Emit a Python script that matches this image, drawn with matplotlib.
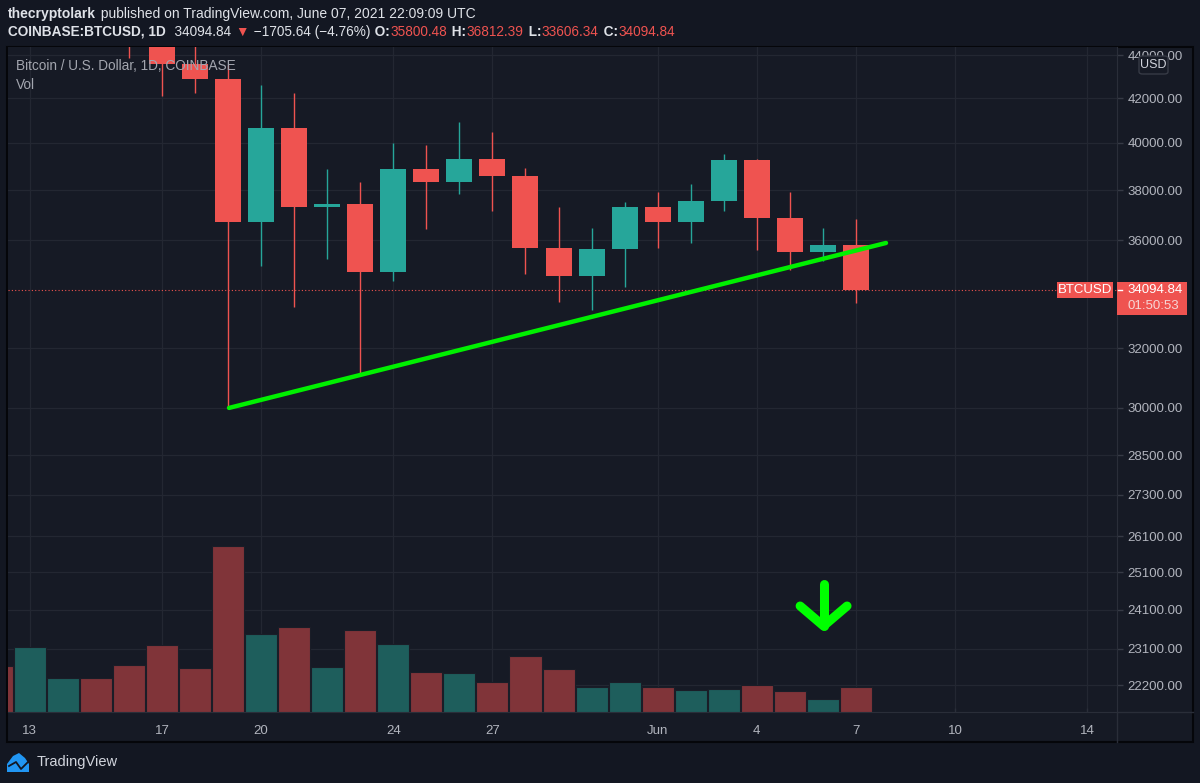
import matplotlib
matplotlib.use('Agg')
import matplotlib.pyplot as plt
import matplotlib.ticker as mticker
from matplotlib.patches import Rectangle, FancyBboxPatch, Polygon
from matplotlib.lines import Line2D
import pandas as pd

plt.rcParams['font.family'] = ['Liberation Sans', 'DejaVu Sans']

W, H = 1200, 783

# daily candles COINBASE:BTCUSD, May 12 - Jun 7 2021
dates = pd.date_range('2021-05-12', '2021-06-07', freq='D')
opens = [56700, 49500, 49700, 49900, 46760, 46450, 43560, 42900, 36710, 40650,
         37310, 37450, 34770, 38880, 38340, 39300, 38590, 35680, 34620, 35650,
         37310, 36710, 37570, 39260, 36870, 35530, 35800.48]
highs = [57900, 51300, 51500, 50700, 49800, 46600, 45800, 43550, 42600, 42250,
         38900, 38350, 40000, 39900, 40930, 40480, 38930, 37300, 36480, 37500,
         37920, 38250, 39530, 39310, 37920, 36480, 36812.39]
lows = [49150, 46000, 48800, 46650, 43850, 42100, 42250, 30000, 35000, 33470,
        35270, 31150, 34430, 36450, 37840, 37150, 34700, 33640, 33380, 34200,
        35680, 35900, 37150, 35600, 34840, 35200, 33606.34]
closes = [49500, 49700, 49900, 46760, 46450, 43560, 42900, 36710, 40650, 37310,
          37450, 34770, 38880, 38340, 39300, 38590, 35680, 34620, 35650, 37310,
          36710, 37570, 39260, 36870, 35530, 35800, 34094.84]
# volume, thousand BTC
volumes = [32, 45.5, 24, 24, 33, 47, 31, 116, 54.5, 59.5, 31.5, 57.5, 47.5, 28,
           27.5, 21, 39, 30, 17.5, 21, 17.5, 15.5, 16, 19, 14.5, 9, 17.5]

# support line drawn on the chart
trend_dates = pd.to_datetime(['2021-05-19 00:40', '2021-06-07 21:50'])
trend_prices = [30000, 35885]

price_ticks = [22200, 23100, 24100, 25100, 26100, 27300, 28500, 30000, 32000,
               36000, 38000, 40000, 42000, 44000]
date_ticks = pd.to_datetime(['2021-05-13', '2021-05-17', '2021-05-20', '2021-05-24',
                             '2021-05-27', '2021-06-01', '2021-06-04', '2021-06-07',
                             '2021-06-10', '2021-06-14'])
date_labels = ['13', '17', '20', '24', '27', 'Jun', '4', '7', '10', '14']
last_price = 34094.84

BG = '#161a25'
OUT = '#131722'
GRID = '#232732'
UP, DOWN = '#26a69a', '#ef5350'
VUP, VDOWN = '#1e5e5c', '#803439'
TXT = '#b2b5be'
HW = '#dfe2e8'


def fx(px):
    return px / W


def fy(py):
    return 1 - py / H


fig = plt.figure(figsize=(12, 7.83), dpi=100, facecolor=OUT)
fig.add_artist(Rectangle((fx(7), fy(742)), (1193 - 7) / W, (742 - 47) / H,
                         transform=fig.transFigure, facecolor=BG,
                         edgecolor='#05060a', lw=1.5, zorder=-5))

ax = fig.add_axes([fx(8), fy(712), (1117 - 8) / W, (712 - 47) / H])
ax.set_facecolor(BG)
ax.set_yscale('log')
ax.set_ylim(21564, 44394)
ax.set_xlim(pd.Timestamp('2021-05-19') - pd.Timedelta(days=6.66),
            pd.Timestamp('2021-05-19') + pd.Timedelta(days=26.9))

# volume on its own hidden scale
ax2 = ax.twinx()
ax2.set_ylim(0, 465.5)
vcols = [VUP if c >= o else VDOWN for o, c in zip(opens, closes)]
ax2.bar(dates, volumes, width=0.97, color=vcols, edgecolor='#1a1d27', lw=0.8)
ax2.yaxis.set_visible(False)
for s in ax2.spines.values():
    s.set_visible(False)

# candles
cols = [UP if c >= o else DOWN for o, c in zip(opens, closes)]
ax.vlines(dates, lows, highs, colors=cols, lw=1, zorder=2)
ax.bar(dates, [abs(c - o) for o, c in zip(opens, closes)],
       bottom=[min(o, c) for o, c in zip(opens, closes)],
       width=0.787, color=cols, lw=0, zorder=3)

ax.plot(trend_dates, trend_prices, color='#00f000', lw=3.2,
        solid_capstyle='round', zorder=4)
ax.axhline(last_price, color=DOWN, lw=0.8, ls=(0, (1, 2)), zorder=1)

ax.yaxis.tick_right()
ax.yaxis.set_label_position('right')
ax.yaxis.set_major_locator(mticker.FixedLocator(price_ticks))
ax.yaxis.set_minor_locator(mticker.NullLocator())
ax.yaxis.set_major_formatter(mticker.FuncFormatter(lambda v, p: f'{v:.2f}'))
ax.set_xticks(date_ticks)
ax.set_xticklabels(date_labels)
ax.tick_params(axis='y', which='both', left=False, labelleft=False, right=True,
               labelright=True, length=4, width=1, color='#363a45',
               pad=3.5, labelsize=9.5, labelcolor=TXT)
ax.tick_params(axis='x', length=3, width=1, color='#2a2e39', direction='in',
               pad=9, labelsize=9.5, labelcolor=TXT)
ax.grid(True, color=GRID, lw=0.9)
ax.set_axisbelow(True)
for s in ['left', 'top']:
    ax.spines[s].set_visible(False)
ax.spines['right'].set_color('#2a2e39')
ax.spines['bottom'].set_color('#2a2e39')

# green arrow over the volume
a_x = pd.Timestamp('2021-06-06 00:30')
d = pd.Timedelta(days=0.71)
ax2.plot([a_x, a_x], [89.5, 60.2], color='#00ff00', lw=6.5, solid_capstyle='round')
ax2.plot([a_x - d, a_x, a_x + d], [74.2, 60.2, 74.2], color='#00ff00', lw=6.5,
         solid_capstyle='round', solid_joinstyle='round')

# axis borders extending through the scales
fig.add_artist(Line2D([fx(1117), fx(1117)], [fy(712), fy(742)], color='#2a2e39', lw=1))
fig.add_artist(Line2D([fx(1117), fx(1193)], [fy(712), fy(712)], color='#2a2e39', lw=1))

# last price labels
fig.add_artist(Rectangle((fx(1057), fy(298)), 56 / W, 16 / H, transform=fig.transFigure,
                         facecolor=DOWN, lw=0))
fig.text(fx(1085), fy(290), 'BTCUSD', color='white', fontsize=9.5, ha='center', va='center')
fig.add_artist(Rectangle((fx(1117), fy(315)), 70 / W, 33 / H, transform=fig.transFigure,
                         facecolor=DOWN, lw=0))
fig.add_artist(Line2D([fx(1118), fx(1122)], [fy(290), fy(290)], color='white', lw=1))
fig.text(fx(1127), fy(290), f'{last_price:.2f}', color='white', fontsize=9.5, va='center')
fig.text(fx(1127), fy(306), '01:50:53', color='#f6d6d6', fontsize=9.5, va='center')

# USD badge
fig.add_artist(FancyBboxPatch((fx(1139), fy(74)), 29 / W, 18 / H,
                              boxstyle='round,pad=0,rounding_size=0.003',
                              transform=fig.transFigure, facecolor=BG,
                              edgecolor='#363a45', lw=1))
fig.text(fx(1153.5), fy(65), 'USD', color='#d1d4dc', fontsize=9, ha='center', va='center')

# legend
fig.text(fx(16), fy(66), 'Bitcoin / U.S. Dollar, 1D, COINBASE', color='#a3a6af',
         fontsize=9.8, va='center')
fig.text(fx(16), fy(85), 'Vol', color='#a3a6af', fontsize=9.8, va='center')


def run(x, y, parts, size):
    # draw coloured pieces of one header line one after another
    cur = fig.text(x, y, parts[0][0], color=parts[0][1], fontweight=parts[0][2],
                   fontsize=size, va='center')
    for s, c, w in parts[1:]:
        cur = ax.annotate(s, xy=(1, 0), xycoords=cur, xytext=(0.6, 0),
                          textcoords='offset points', va='bottom', ha='left',
                          color=c, fontweight=w, fontsize=size, annotation_clip=False)


run(fx(8), fy(14), [('thecryptolark', HW, 'bold'),
                    (' published on TradingView.com, June 07, 2021 22:09:09 UTC', HW, 'normal')], 10)
run(fx(8), fy(32), [('COINBASE:BTCUSD, 1D', HW, 'bold'),
                    ('  34094.84 ', HW, 'normal'),
                    ('▼', DOWN, 'normal'),
                    (' \u22121705.64 (\u22124.76%)', HW, 'normal'),
                    (' O:', HW, 'bold'), ('35800.48', DOWN, 'normal'),
                    (' H:', HW, 'bold'), ('36812.39', DOWN, 'normal'),
                    (' L:', HW, 'bold'), ('33606.34', DOWN, 'normal'),
                    (' C:', HW, 'bold'), ('34094.84', DOWN, 'normal')], 9.8)

# TradingView logo
fig.add_artist(Polygon([(fx(7), fy(772)), (fx(7), fy(764)), (fx(13), fy(756)),
                        (fx(19), fy(753)), (fx(25), fy(758)), (fx(29), fy(764)),
                        (fx(29), fy(772))], closed=True, transform=fig.transFigure,
                       facecolor='#2196f3', lw=0))
fig.add_artist(Line2D([fx(9), fx(16), fx(21), fx(28)], [fy(766), fy(762), fy(769), fy(762)],
                      color=OUT, lw=1.3))
fig.text(fx(37), fy(762), 'TradingView', color='#d1d4dc', fontsize=10.5, va='center')

fig.savefig('out.png', dpi=100, facecolor=OUT)
